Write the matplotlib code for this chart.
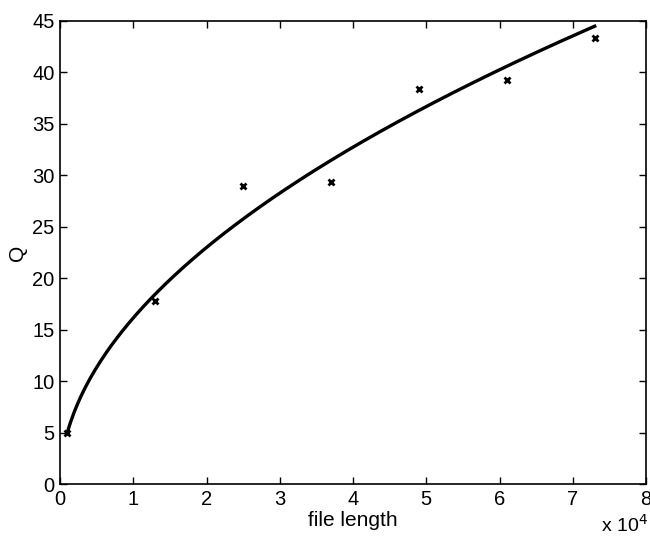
import numpy as np
import matplotlib
matplotlib.use("Agg")
import matplotlib.pyplot as plt

plt.rcParams['font.family'] = ['Liberation Sans', 'DejaVu Sans']

# data
file_length = np.array([1000, 13000, 25000, 37000, 49000, 61000, 73000])
Q = np.array([4.95, 17.8, 28.95, 29.35, 38.4, 39.25, 43.35])
xticks = [0, 1, 2, 3, 4, 5, 6, 7, 8]
yticks = [0, 5, 10, 15, 20, 25, 30, 35, 40, 45]

# power-law fit through data (least squares in log space)
b, lna = np.polyfit(np.log(file_length), np.log(Q), 1)
xf = np.linspace(file_length.min(), file_length.max(), 300)
yf = np.exp(lna) * xf ** b

fig = plt.figure(figsize=(6.5, 5.38), dpi=100)
ax = fig.add_axes([60/650, 54/538, 586/650, 463/538])
ax.plot(xf, yf, color='black', lw=2.4)
ax.plot(file_length, Q, linestyle='none', marker='x', color='black', ms=5, mew=2)

ax.set_xlim(0, 80000)
ax.set_ylim(0, 45)
ax.set_xticks([t * 1e4 for t in xticks])
ax.set_xticklabels([str(t) for t in xticks])
ax.set_yticks(yticks)
ax.set_yticklabels([str(t) for t in yticks])
ax.tick_params(direction='in', length=5, width=1, labelsize=14.5, top=True, right=True, pad=4)
for s in ax.spines.values():
    s.set_linewidth(1.2)

ax.set_xlabel('file length', fontsize=15, labelpad=2)
ax.set_ylabel('Q', fontsize=15, labelpad=4)
fig.text(0.996, 0.004, r'x 10$^4$', fontsize=14, ha='right', va='bottom')

fig.savefig('out.png', dpi=100)
